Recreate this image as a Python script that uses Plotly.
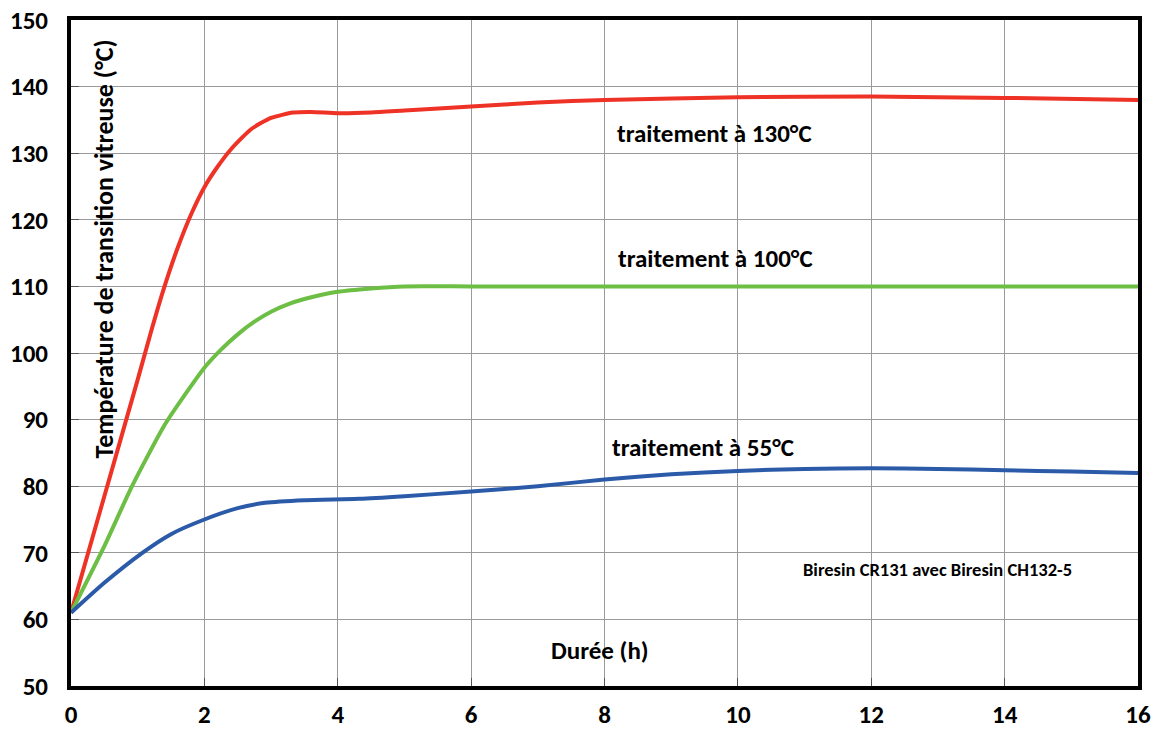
import plotly.graph_objects as go

# Data
t_130 = [0, 0.5, 1.0, 1.2, 1.38, 1.6, 1.8, 2.0, 2.2, 2.4, 2.7, 3.0, 3.33, 3.6, 4.0, 4.5, 5, 6, 7, 8, 10, 12, 14, 16]
tg_130 = [61, 78.5, 96.0, 103.2, 109.3, 115.8, 120.8, 124.9, 128.0, 130.6, 133.6, 135.3, 136.1, 136.2, 136.0, 136.1, 136.4, 137.0, 137.6, 138.0, 138.4, 138.5, 138.3, 138.0]

t_100 = [0, 0.5, 0.91, 1.41, 1.86, 2.0, 2.25, 2.5, 2.75, 3.0, 3.25, 3.5, 4.0, 4.5, 5.0, 6, 8, 10, 12, 14, 16]
tg_100 = [61, 71, 79.9, 89.3, 95.9, 97.8, 100.5, 102.8, 104.7, 106.2, 107.3, 108.1, 109.2, 109.7, 110, 110, 110, 110, 110, 110, 110]

t_55 = [0, 0.5, 1.07, 1.5, 2.0, 2.5, 2.91, 3.5, 4.33, 5, 6, 7, 8, 9, 10, 11, 12, 13, 14, 15, 16]
tg_55 = [61, 65.5, 70, 72.8, 75, 76.7, 77.5, 77.9, 78.1, 78.5, 79.2, 80, 81, 81.8, 82.3, 82.6, 82.7, 82.6, 82.4, 82.2, 82.0]

x_ticks = [0, 2, 4, 6, 8, 10, 12, 14, 16]
y_ticks = [50, 60, 70, 80, 90, 100, 110, 120, 130, 140, 150]

FONT = "Carlito, Lato, 'Open Sans', sans-serif"

fig = go.Figure()
for tx, ty, col in [(t_130, tg_130, "#EE3226"), (t_100, tg_100, "#6CBE45"), (t_55, tg_55, "#2B5BA8")]:
    fig.add_trace(go.Scatter(x=tx, y=ty, mode="lines",
                             line=dict(color=col, width=4, shape="spline", smoothing=0.6),
                             showlegend=False, hoverinfo="skip"))

annots = [
    dict(x=9.65, y=133, text="traitement à 130°C", size=25),
    dict(x=9.67, y=114.2, text="traitement à 100°C", size=25),
    dict(x=9.47, y=85.8, text="traitement à 55°C", size=25),
    dict(x=13.0, y=67.5, text="Biresin CR131 avec Biresin CH132-5", size=18.5),
    dict(x=7.93, y=55.3, text="Durée (h)", size=25),
]
for a in annots:
    fig.add_annotation(x=a["x"], y=a["y"], text="<b>" + a["text"] + "</b>", showarrow=False,
                       font=dict(family=FONT, size=a["size"], color="black"),
                       xanchor="center", yanchor="middle")

fig.add_annotation(x=0.5, y=115.6, text="<b>Température de transition vitreuse (°C)</b>", textangle=-90,
                   showarrow=False, font=dict(family=FONT, size=26, color="black"),
                   xanchor="center", yanchor="middle")

fig.update_layout(
    width=1166, height=729,
    margin=dict(l=71, r=28, t=20, b=43),
    plot_bgcolor="white", paper_bgcolor="white",
    font=dict(family=FONT, size=25, color="black"),
)
fig.update_xaxes(range=[0, 16], tickvals=x_ticks, ticktext=[f"<b>{v}</b>" for v in x_ticks],
                 showgrid=True, gridcolor="#9a9a9a", gridwidth=1, automargin=False,
                 showline=True, linecolor="black", linewidth=4, mirror=True,
                 ticks="inside", ticklen=8, tickcolor="#555", zeroline=False,
                 ticklabelstandoff=3, ticklabeloverflow="allow",
                 tickfont=dict(family=FONT, size=25, color="black"))
fig.update_yaxes(range=[50, 150], tickvals=y_ticks, ticktext=[f"<b>{v}</b>" for v in y_ticks],
                 showgrid=True, gridcolor="#9a9a9a", gridwidth=1, automargin=False,
                 showline=True, linecolor="black", linewidth=4, mirror=True,
                 ticks="inside", ticklen=8, tickcolor="#555", zeroline=False,
                 ticklabelstandoff=14, ticklabeloverflow="allow",
                 tickfont=dict(family=FONT, size=25, color="black"))

fig.write_html("out.html", config={"displayModeBar": False},
               post_script="document.body.style.margin='0';document.body.style.overflow='hidden';")
